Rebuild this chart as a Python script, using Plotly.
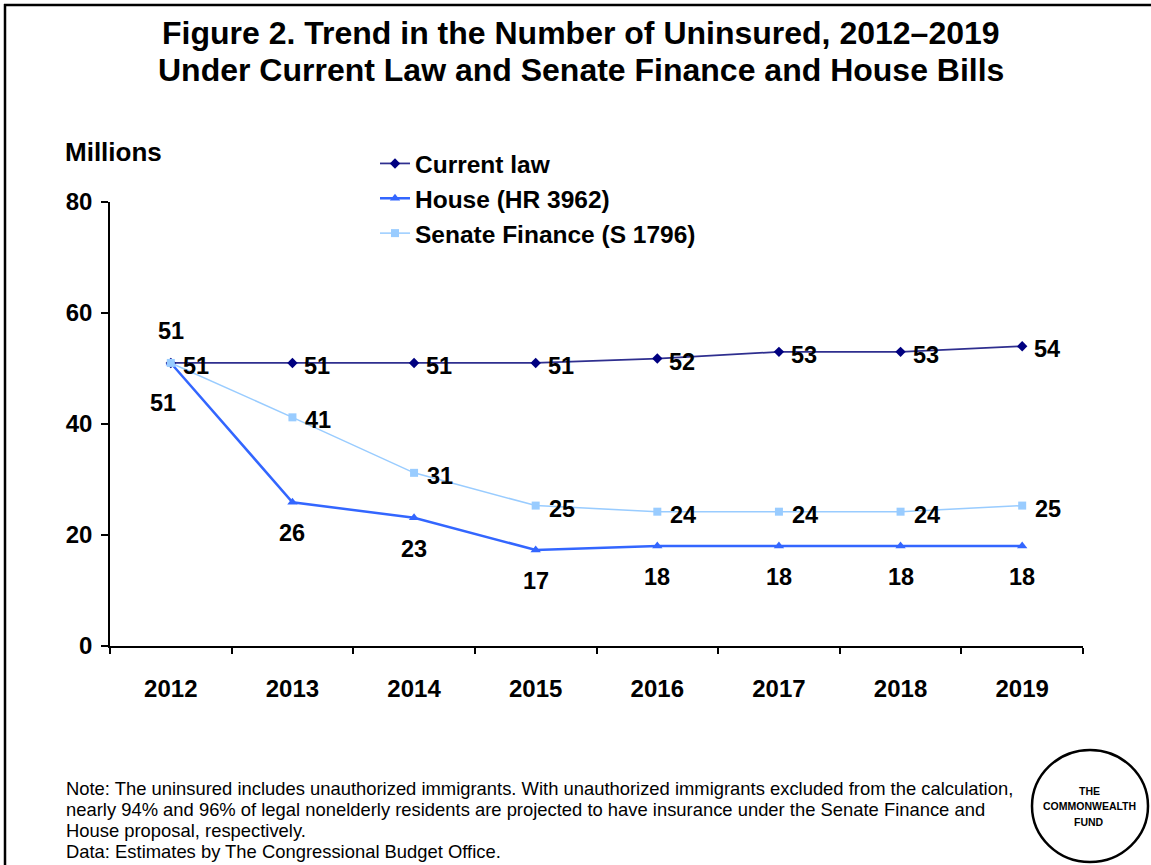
import plotly.graph_objects as go

# ---------------- data ----------------
years = ["2012", "2013", "2014", "2015", "2016", "2017", "2018", "2019"]
current_law = [51.0, 51.0, 51.0, 51.0, 51.8, 53.0, 53.0, 54.0]
house = [51.0, 25.9, 23.1, 17.3, 18.0, 18.0, 18.0, 18.0]
senate = [51.0, 41.2, 31.2, 25.3, 24.2, 24.2, 24.2, 25.3]
y_ticks = [0, 20, 40, 60, 80]

series_names = ["Current law", "House (HR 3962)", "Senate Finance (S 1796)"]

title_lines = [
    "Figure 2. Trend in the Number of Uninsured, 2012–2019",
    "Under Current Law and Senate Finance and House Bills",
]
note_lines = [
    "Note: The uninsured includes unauthorized immigrants. With unauthorized immigrants excluded from the calculation,",
    "nearly 94% and 96% of legal nonelderly residents are projected to have insurance under the Senate Finance and",
    "House proposal, respectively.",
    "Data: Estimates by The Congressional Budget Office.",
]
logo_lines = ["THE", "COMMONWEALTH", "FUND"]

# ---------------- layout geometry ----------------
W, H = 1151, 865
L, R = 110, 1083          # plot area x pixels
T, B = 202, 646           # plot area y pixels
FONT = "Arial, Liberation Sans, sans-serif"


def px(x):
    return (x - L) / (R - L)


def py(y):
    return (B - y) / (B - T)


xpos = list(range(len(years)))   # category positions on the axis

fig = go.Figure()

fig.add_trace(go.Scatter(
    x=xpos, y=current_law, name=f"<b>{series_names[0]}</b>", mode="lines+markers",
    line=dict(color="#2f2f8f", width=1.75),
    marker=dict(symbol="diamond", size=8, color="#000080"),
))
fig.add_trace(go.Scatter(
    x=xpos, y=house, name=f"<b>{series_names[1]}</b>", mode="lines+markers",
    line=dict(color="#3366FF", width=2.5),
    marker=dict(symbol="triangle-up", size=9, color="#3366FF"),
))
fig.add_trace(go.Scatter(
    x=xpos, y=senate, name=f"<b>{series_names[2]}</b>", mode="lines+markers",
    line=dict(color="#99CCFF", width=1.5),
    marker=dict(symbol="square", size=8, color="#99CCFF"),
))

annotations = []
label_font = dict(family=FONT, size=23.5, color="black")

# value labels
for i, v in zip(xpos, current_law):
    annotations.append(dict(x=i, y=v, xref="x", yref="y", text=f"<b>{v:.0f}</b>",
                            showarrow=False, xshift=25, yshift=-3, font=label_font))
for i, v in zip(xpos, house):
    xs, ys = (-8, -40) if i == 0 else (0, -31)
    annotations.append(dict(x=i, y=v, xref="x", yref="y", text=f"<b>{v:.0f}</b>",
                            showarrow=False, xshift=xs, yshift=ys, font=label_font))
for i, v in zip(xpos, senate):
    xs, ys = (0, 32) if i == 0 else (26, -3)
    annotations.append(dict(x=i, y=v, xref="x", yref="y", text=f"<b>{v:.0f}</b>",
                            showarrow=False, xshift=xs, yshift=ys, font=label_font))

# title
for text, yc in zip(title_lines, [33, 70]):
    annotations.append(dict(x=px(581), y=py(yc), xref="paper", yref="paper",
                            text=f"<b>{text}</b>", showarrow=False,
                            xanchor="center", yanchor="middle",
                            font=dict(family=FONT, size=32, color="black")))

# axis title "Millions"
annotations.append(dict(x=px(63), y=py(152), xref="paper", yref="paper",
                        text="<b>Millions</b>", showarrow=False,
                        xanchor="left", yanchor="middle",
                        font=dict(family=FONT, size=26, color="black")))

# note
for text, yc in zip(note_lines, [788, 809, 830, 851]):
    annotations.append(dict(x=px(64), y=py(yc), xref="paper", yref="paper",
                            text=text, showarrow=False,
                            xanchor="left", yanchor="middle", align="left",
                            font=dict(family=FONT, size=18.4, color="black")))

# logo text
for text, yc in zip(logo_lines, [791, 806, 822]):
    annotations.append(dict(x=px(1089), y=py(yc), xref="paper", yref="paper",
                            text=f"<b>{text}</b>", showarrow=False,
                            xanchor="center", yanchor="middle",
                            font=dict(family=FONT, size=10.5, color="black")))

shapes = [
    # frame (left and top edges visible)
    dict(type="line", xref="paper", yref="paper", x0=px(5), x1=px(5),
         y0=py(4), y1=py(H + 10), line=dict(color="black", width=2.5)),
    dict(type="line", xref="paper", yref="paper", x0=px(4), x1=px(W + 10),
         y0=py(5), y1=py(5), line=dict(color="black", width=2.5)),
    # logo circle
    dict(type="circle", xref="paper", yref="paper", x0=px(1032), x1=px(1148),
         y0=py(862), y1=py(750), line=dict(color="black", width=2.5)),
]

boundaries = [p - 0.5 for p in xpos] + [xpos[-1] + 0.5]

fig.update_layout(
    width=W, height=H,
    margin=dict(l=L, r=W - R, t=T, b=H - B, pad=0),
    paper_bgcolor="white", plot_bgcolor="white",
    font=dict(family=FONT, color="black"),
    showlegend=True,
    legend=dict(x=px(375), y=py(141), xanchor="left", yanchor="top",
                bgcolor="rgba(0,0,0,0)",
                font=dict(family=FONT, size=24.5, color="black"),
                itemwidth=30),
    annotations=annotations,
    shapes=shapes,
    xaxis=dict(
        range=[-0.5, len(years) - 0.5], showgrid=False, zeroline=False,
        showline=True, linecolor="black", linewidth=1.5,
        tickvals=xpos, ticktext=[f"<b>{y}</b>" for y in years],
        ticks="", ticklen=0,
        minor=dict(tickvals=boundaries, ticks="outside", ticklen=6,
                   tickwidth=1.5, tickcolor="black", showgrid=False),
        tickfont=dict(family=FONT, size=24, color="black"),
        ticklabelstandoff=20, fixedrange=True,
    ),
    yaxis=dict(
        range=[0, 80], tickvals=y_ticks, ticktext=[f"<b>{t}</b>" for t in y_ticks],
        showgrid=False, zeroline=False,
        showline=True, linecolor="black", linewidth=1.5,
        ticks="outside", ticklen=7, tickwidth=1.5, tickcolor="black",
        tickfont=dict(family=FONT, size=24, color="black"),
        ticklabelstandoff=4, fixedrange=True,
    ),
)

fig.write_html("out.html", config={"displayModeBar": False},
               post_script="document.body.style.margin='0';")
